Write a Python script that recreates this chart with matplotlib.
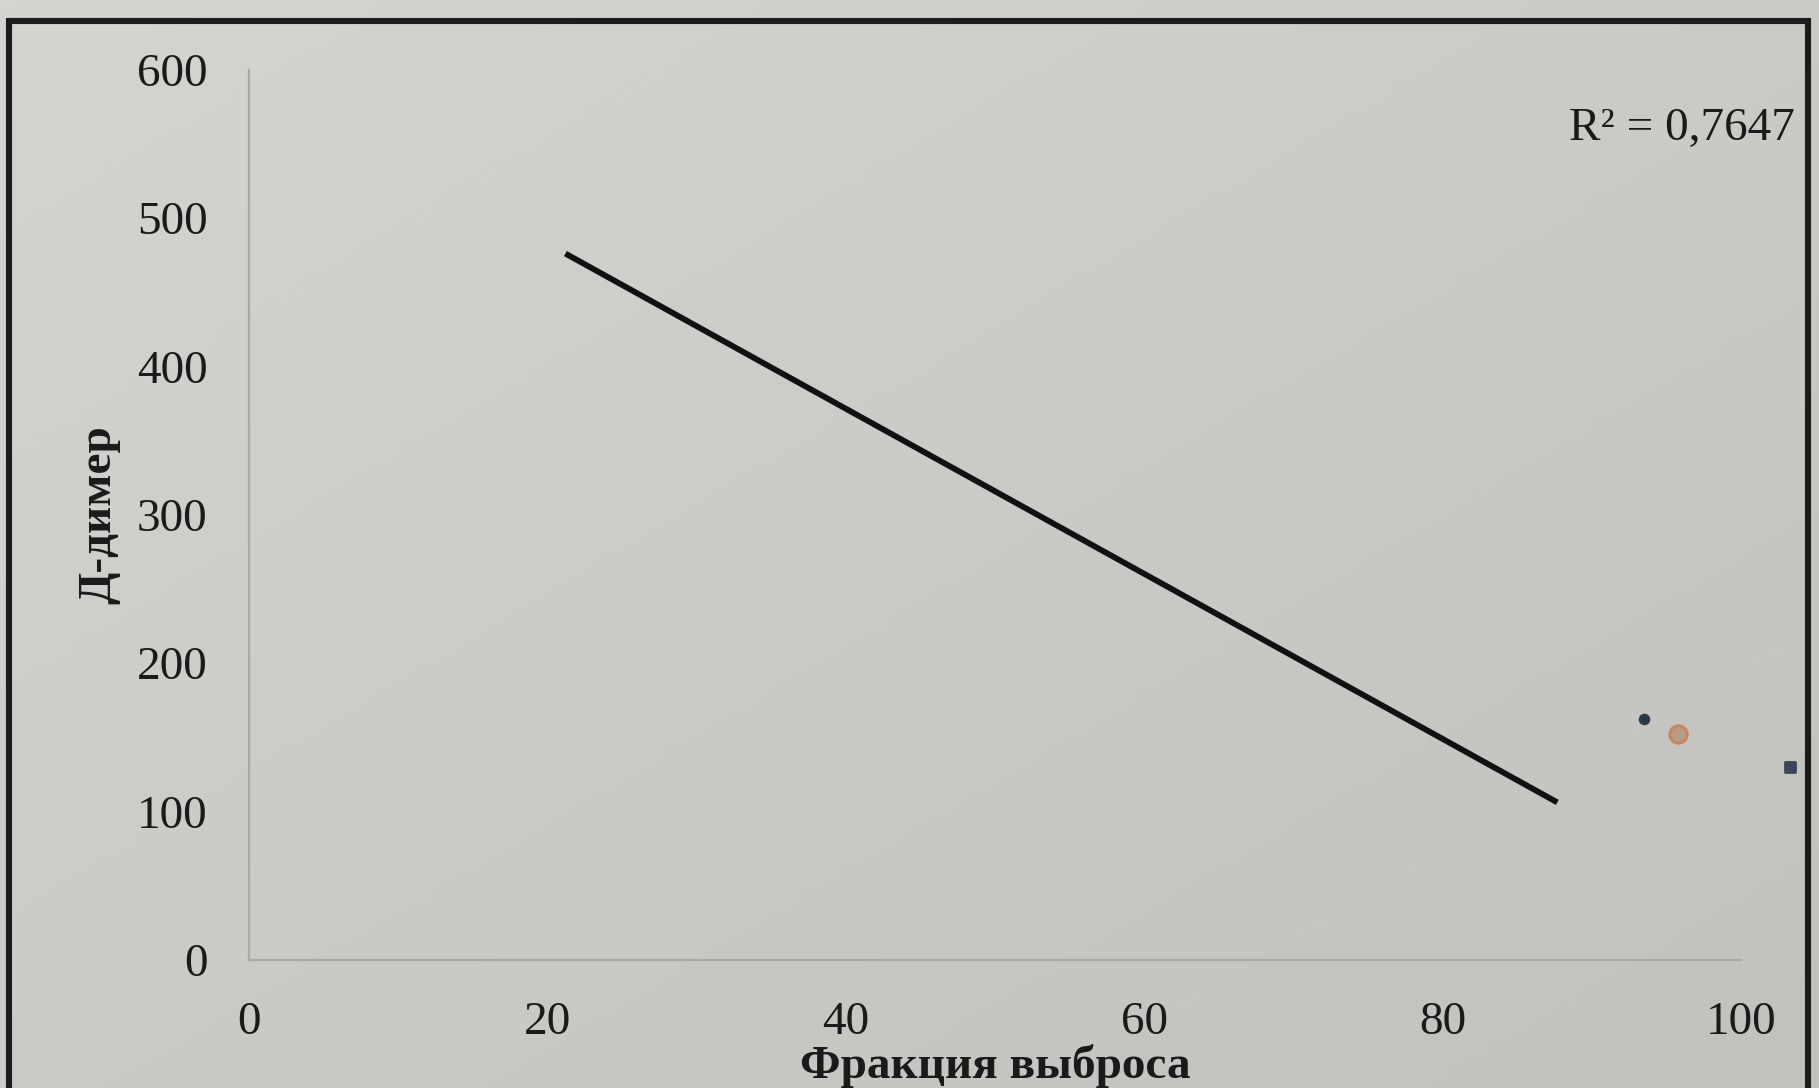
"""Д-димер vs фракция выброса, scatter with linear trend"""

import numpy as np
import matplotlib.pyplot as plt
from matplotlib.patches import Rectangle

# Data
trend_x = [21.2, 87.7]          # trend line end points
trend_y = [476, 106]
pts_dark_x = [93.5]             # small dark point
pts_dark_y = [162]
pts_orange_x = [95.8]           # orange circle
pts_orange_y = [152]
pts_blue_x = [103.3]            # blue square
pts_blue_y = [130]
x_ticks = [0, 20, 40, 60, 80, 100]
y_ticks = [0, 100, 200, 300, 400, 500, 600]
r2_label = 'R² = 0,7647'

plt.rcParams['font.family'] = ['Liberation Serif', 'DejaVu Serif']

bg = '#c8c9c4'
fig = plt.figure(figsize=(9.095, 5.44), dpi=200, facecolor=bg)

# soft lighting of the photographed page: lighter top-left, darker bottom-right
gx, gy = np.meshgrid(np.linspace(0, 1, 200), np.linspace(0, 1, 120))
shade = 0.5 * gx + 0.5 * gy
bg_ax = fig.add_axes([0, 0, 1, 1], zorder=-10)
bg_ax.imshow(shade, cmap=plt.matplotlib.colors.LinearSegmentedColormap.from_list(
    'page', ['#d4d5d0', '#c1c2bd']), aspect='auto', extent=(0, 1, 0, 1), origin='upper')
bg_ax.axis('off')

ax = fig.add_axes([0.137, 0.118, 0.820, 0.818])
ax.set_facecolor('none')

# black frame around the chart (runs off the bottom of the photo)
fig.patches.append(Rectangle((0.005, -0.05), 0.989, 1.031, transform=fig.transFigure,
                             fill=False, edgecolor='#1c1c1c', linewidth=2.2, zorder=5))

ax.plot(trend_x, trend_y, color='#111111', linewidth=2.1, solid_capstyle='butt')
ax.scatter(pts_dark_x, pts_dark_y, s=10, color='#2b3a4a', clip_on=False, zorder=3)
ax.scatter(pts_orange_x, pts_orange_y, s=40, facecolor='#b89a88', edgecolor='#c8865a',
           linewidth=1.0, clip_on=False, zorder=3)
ax.scatter(pts_blue_x, pts_blue_y, s=14, marker='s', color='#3a4658', clip_on=False, zorder=3)

ax.set_xlim(0, 100)
ax.set_ylim(0, 600)
ax.set_xticks(x_ticks)
ax.set_yticks(y_ticks)
ax.tick_params(length=0, labelsize=17, colors='#1a1a1a')
ax.tick_params(axis='x', pad=15)
ax.tick_params(axis='y', pad=15)

for side in ['top', 'right']:
    ax.spines[side].set_visible(False)
for side in ['left', 'bottom']:
    ax.spines[side].set_color('#a9aaa6')
    ax.spines[side].set_linewidth(0.8)

ax.set_xlabel('Фракция выброса', fontsize=17, fontweight='bold', color='#1a1a1a', labelpad=0)
ax.set_ylabel('Д-димер', fontsize=17, fontweight='bold', color='#1a1a1a', labelpad=6)

fig.text(0.987, 0.882, r2_label, ha='right', va='center', fontsize=17, color='#1a1a1a')

fig.savefig('out.png', dpi=200, facecolor=bg)
